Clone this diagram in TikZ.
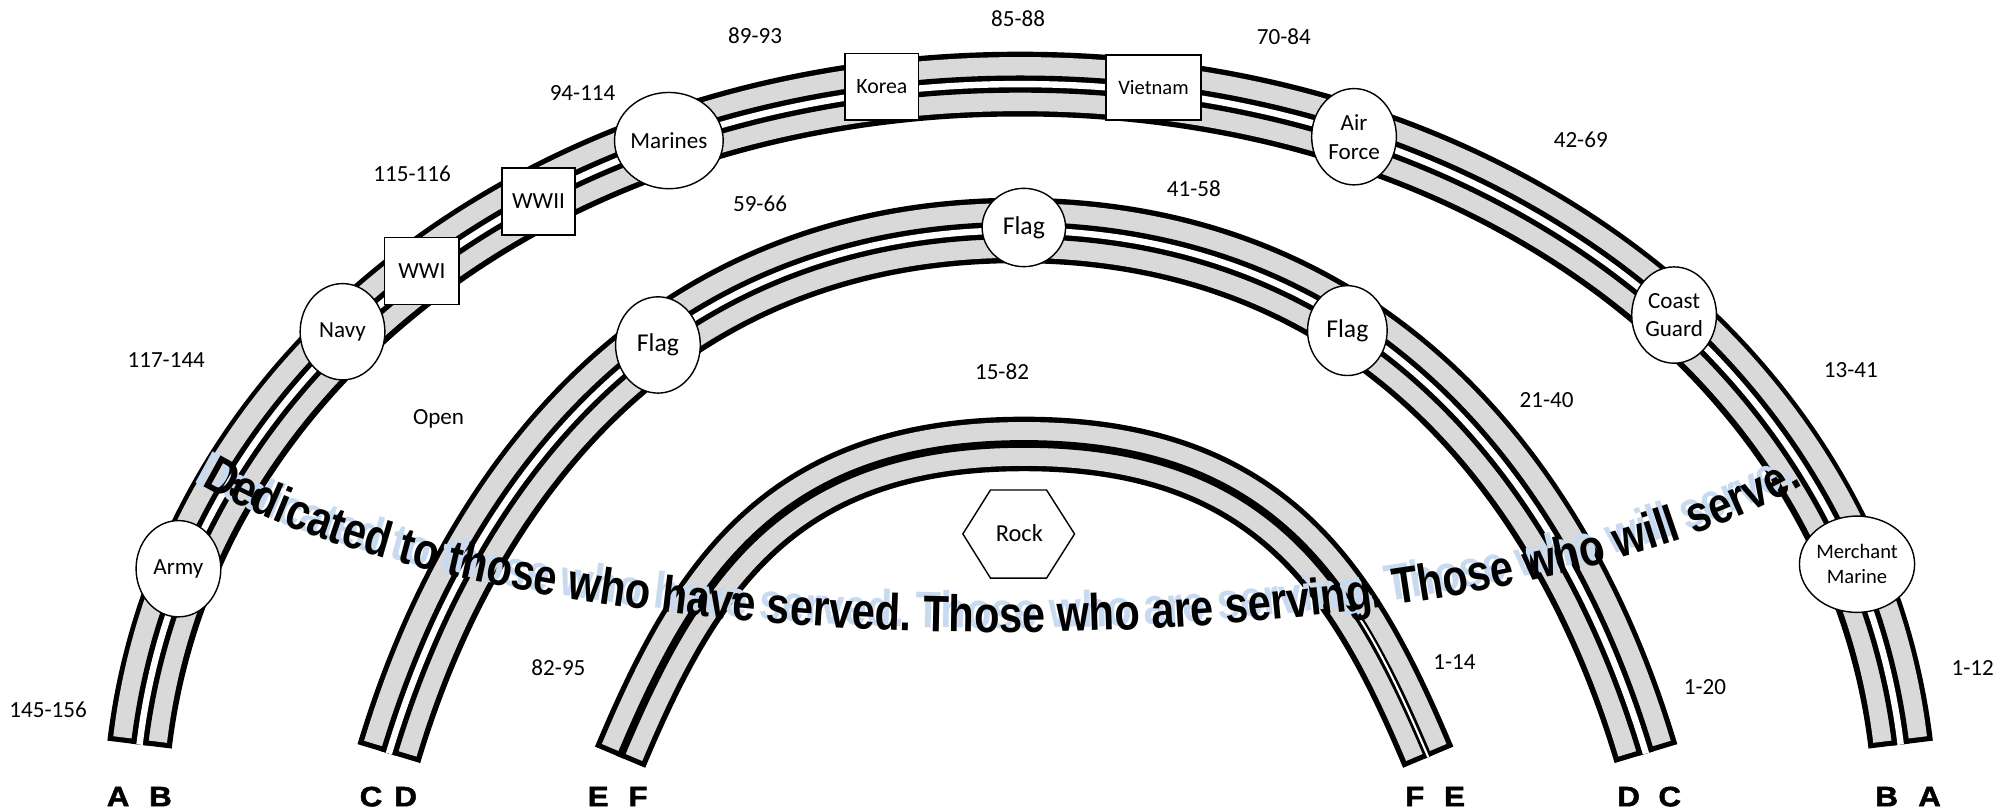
\documentclass[tikz,border=0pt]{standalone}
\usepackage{fontspec}
\setmainfont{Carlito}
\newfontfamily\wafont{Liberation Sans Bold}[FakeStretch=0.81]
\newfontfamily\heavyfont{Liberation Sans Bold}[FakeBold=1.8,FakeStretch=1.12]
\usetikzlibrary{shapes.geometric,decorations.text}
\definecolor{bandgray}{RGB}{217,217,217}
\definecolor{shadowblue}{RGB}{200,218,240}
\tikzset{
  oval/.style={ellipse, draw, fill=white, line width=1.1pt, minimum width=66pt, minimum height=75pt, inner sep=0pt, align=center, font=\fontsize{18}{22.5}\selectfont},
  box/.style={rectangle, draw, fill=white, line width=1.1pt, minimum height=52pt, inner sep=0pt, font=\fontsize{18}{22}\selectfont},
  num/.style={inner sep=0pt, font=\fontsize{18}{22}\selectfont},
  letter/.style={inner sep=0pt, font=\heavyfont\fontsize{21.8}{24}\selectfont},
}
\begin{document}
\begin{tikzpicture}[x=1pt,y=-1pt]
\useasboundingbox (0,0) rectangle (1568,632);
% outer arch A/B
\foreach \w/\c/\s in {50.5/black/0, 42.1/bandgray/4, 13.4/black/0, 5/white/0}{
  \draw[line width=\w pt, color=\c, shorten <=\s pt, shorten >=\s pt]
    (108.7,580) .. controls (144.6,280) and (434.6,65.5) .. (794.6,65.5)
    .. controls (1154.6,65.5) and (1444.6,280) .. (1480.5,580);
}
% middle arch C/D
\foreach \w/\c/\s in {51/black/0, 42.6/bandgray/4, 13.4/black/0, 5/white/0}{
  \draw[line width=\w pt, color=\c, shorten <=\s pt, shorten >=\s pt]
    (302.9,587) .. controls (368.9,367) and (522.5,179.5) .. (792.5,179.5)
    .. controls (1062.5,179.5) and (1216.1,367) .. (1282.1,587);
}
% inner arch E/F
\foreach \w/\c/\s in {42.5/black/0, 34.1/bandgray/4, 6/black/0}{
  \draw[line width=\w pt, color=\c, shorten <=\s pt, shorten >=\s pt]
    (483,589.8) .. controls (541.85,449.8) and (607.75,345.8) .. (797.75,345.8)
    .. controls (987.75,345.8) and (1053.65,449.8) .. (1112.5,589.8);
}
% thin gap between F and E on the right leg
\draw[line width=1.6pt, white, shorten <=12pt]
  (1048.9,467) .. controls (1073.5,502.6) and (1093.37,544.3) .. (1112.5,589.8);
% rock
\draw[line width=1.1pt] (750,415.9) -- (771.5,381.7) -- (815.2,381.7) -- (837,415.9) -- (815.2,450.3) -- (771.5,450.3) -- cycle;
\node[num, font=\fontsize{19}{22}\selectfont] (rock) at (794,415) {Rock};
% curved text (lower half of an ellipse, centre (781,281), radii 700 x 210)
\path[decorate, decoration={text along path, text color=shadowblue, text align=center,
  text={|\wafont\fontsize{40}{40}\selectfont|Dedicated to those who have served. Those who are serving. Those who will serve.}}]
  ([shift={(-6,-3)}]139.2,366.4) arc[start angle=156.4, end angle=23.6, x radius=700, y radius=210];
\path[decorate, decoration={text along path, text color=black, text align=center,
  text={|\wafont\fontsize{40}{40}\selectfont|Dedicated to those who have served. Those who are serving. Those who will serve.}}]
  (139.2,366.4) arc[start angle=156.4, end angle=23.6, x radius=700, y radius=210];
% ovals
\node[oval] (army) at (139,443) {Army};
\node[oval] (navy) at (266.8,258.4) {Navy};
\node[oval] (marines) at (521,109.5) {Marines};
\node[oval] (airforce) at (1054.7,106.5) {Air\\Force};
\node[oval] (coast) at (1304,245.4) {Coast\\Guard};
\node[oval, font=\fontsize{16}{19.5}\selectfont] (merchant) at (1446.5,439.5) {Merchant\\Marine};
\node[oval, font=\fontsize{20}{22}\selectfont] (flagL) at (512.5,268.7) {Flag};
\node[oval, font=\fontsize{20}{22}\selectfont, minimum width=65pt, minimum height=61pt] (flagT) at (797.5,177.2) {Flag};
\node[oval, font=\fontsize{20}{22}\selectfont, minimum width=62pt, minimum height=70pt] (flagR) at (1049.5,257.5) {Flag};
% boxes
\node[box, minimum width=57.8pt] (wwi) at (328.6,211) {WWI};
\node[box, minimum width=56.7pt] (wwii) at (419.5,157) {WWII};
\node[box, minimum width=57.4pt, font=\fontsize{17}{20}\selectfont] (korea) at (686.9,67.5) {Korea};
\node[box, minimum width=73.7pt, minimum height=50.7pt, font=\fontsize{16}{20}\selectfont] (vietnam) at (898.5,68.2) {Vietnam};
% number labels
\node[num] (n145) at (37.5,553) {145-156};
\node[num] (n117) at (129.5,280.4) {117-144};
\node[num] (nopen) at (341.6,325.9) {Open};
\node[num] (n115) at (321,135) {115-116};
\node[num] (n94) at (453.8,72.7) {94-114};
\node[num] (n89) at (588.2,28) {89-93};
\node[num] (n85) at (793,14.3) {85-88};
\node[num] (n70) at (1000,28.6) {70-84};
\node[num] (n42) at (1231.3,109) {42-69};
\node[num] (n59) at (592,158.4) {59-66};
\node[num] (n41) at (930,146.7) {41-58};
\node[num] (n15) at (780.5,289.5) {15-82};
\node[num] (n13) at (1441.7,288.2) {13-41};
\node[num] (n21) at (1204.7,311.6) {21-40};
\node[num] (n82) at (435,520) {82-95};
\node[num] (n1a) at (1133,515.5) {1-14};
\node[num] (n1b) at (1328,535) {1-20};
\node[num] (n1c) at (1536.6,520) {1-12};
% letters
\node[letter] (la1) at (92,620.5) {A};
\node[letter] (lb1) at (125,620.5) {B};
\node[letter] (lc1) at (289,620.5) {C};
\node[letter] (ld1) at (316,620.5) {D};
\node[letter] (le1) at (466,620.5) {E};
\node[letter] (lf1) at (497,620.5) {F};
\node[letter] (lf2) at (1102,620.5) {F};
\node[letter] (le2) at (1133,620.5) {E};
\node[letter] (ld2) at (1268.6,620.5) {D};
\node[letter] (lc2) at (1300.6,620.5) {C};
\node[letter] (lb2) at (1469.6,620.5) {B};
\node[letter] (la2) at (1503,620.5) {A};
\end{tikzpicture}
\end{document}
